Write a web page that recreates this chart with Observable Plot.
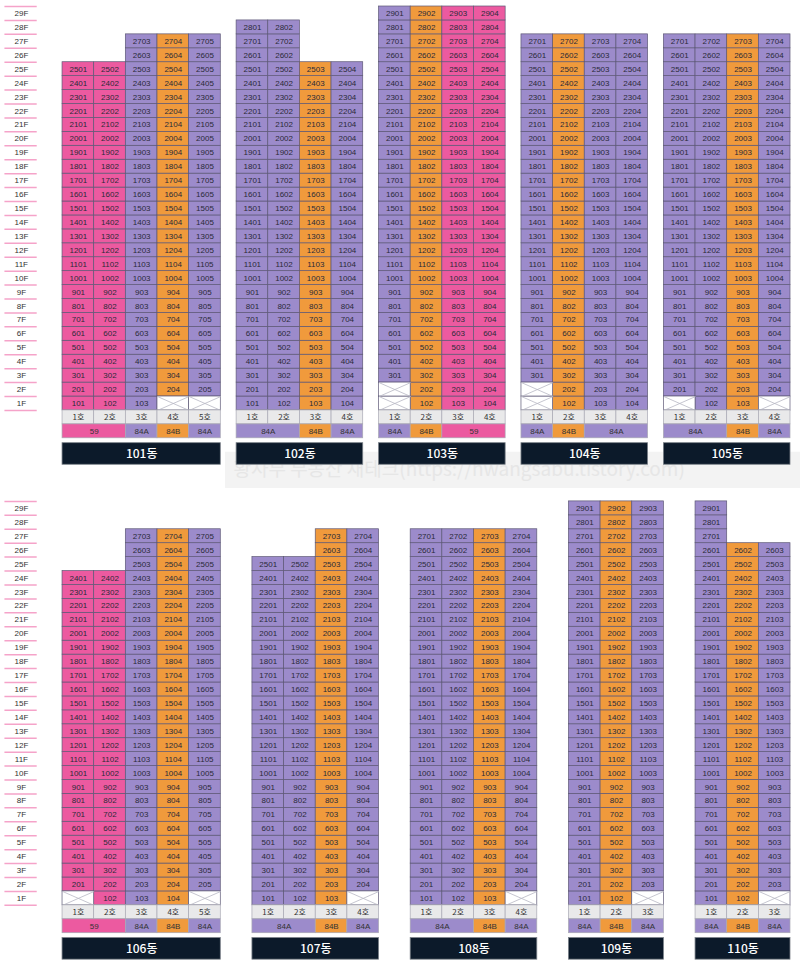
<!DOCTYPE html>
<html><head><meta charset="utf-8">
<script src="https://cdn.jsdelivr.net/npm/d3@7"></script>
<script src="https://cdn.jsdelivr.net/npm/@observablehq/plot@0.6"></script>
<style>
body{margin:0;background:#fff;font-family:"Noto Sans CJK KR","Noto Sans",sans-serif}
#chart svg{display:block}
</style>
</head><body><div id="chart"></div>
<script>
// ---- data ----
const buildingNames = ["101동","102동","103동","104동","105동","106동","107동","108동","109동","110동"];
const buildingRow = [0,0,0,0,0,1,1,1,1,1];
const unitTypes = [
  ["59","59","84A","84B","84A"],
  ["84A","84A","84B","84A"],
  ["84A","84B","59","59"],
  ["84A","84B","84A","84A"],
  ["84A","84A","84B","84A"],
  ["59","59","84A","84B","84A"],
  ["84A","84A","84B","84A"],
  ["84A","84A","84B","84A"],
  ["84A","84B","84A"],
  ["84A","84B","84A"]
];
const topFloors = [
  [25,25,27,27,27],
  [28,28,25,25],
  [29,29,29,29],
  [27,27,27,27],
  [27,27,27,27],
  [24,24,27,27,27],
  [25,25,27,27],
  [27,27,27,27],
  [29,29,29],
  [29,26,26]
];
const emptyUnits = [
  ["104","105"],
  [],
  ["101","201"],
  ["101","201"],
  ["101","104"],
  ["101","105"],
  ["104"],
  ["104"],
  ["103"],
  ["103"]
];
const floorLabels = ["29F","28F","27F","26F","25F","24F","23F","22F","21F","20F","19F","18F","17F","16F","15F","14F","13F","12F","11F","10F","9F","8F","7F","6F","5F","4F","3F","2F","1F"];
const lineLabels = ["1호","2호","3호","4호","5호"];
const typeColors = {"59": "#EC5AA0", "84A": "#9C8BCB", "84B": "#F09A3C"};
const watermark = "황사부 부동산 재테크(https://hwangsabu.tistory.com)";

// ---- layout (in column / row units) ----
const rowGap = [0.5, 1];
const rowOffset = [0, 35.53];
const NF = floorLabels.length;

const starts = [];
{
  const cursor = [0, 0];
  buildingNames.forEach((n, i) => {
    const r = buildingRow[i];
    starts.push(cursor[r]);
    cursor[r] += unitTypes[i].length + rowGap[r];
  });
}

const cells = [], empties = [], hoCells = [], typeSpans = [], labels = [], floorTexts = [], floorRules = [];
buildingNames.forEach((name, b) => {
  const x0 = starts[b], yo = rowOffset[buildingRow[b]];
  const types = unitTypes[b];
  types.forEach((t, c) => {
    for (let f = 1; f <= topFloors[b][c]; f++) {
      const unit = String(f * 100 + c + 1);
      const d = {x1: x0 + c, x2: x0 + c + 1, y1: yo + (NF - f), y2: yo + (NF - f) + 1, unit, type: t};
      if (emptyUnits[b].includes(unit)) empties.push(d); else cells.push(d);
    }
    hoCells.push({x1: x0 + c, x2: x0 + c + 1, y1: yo + NF, y2: yo + NF + 1, label: lineLabels[c]});
  });
  // merge adjacent equal types
  let s = 0;
  for (let c = 1; c <= types.length; c++) {
    if (c === types.length || types[c] !== types[s]) {
      typeSpans.push({x1: x0 + s, x2: x0 + c, y1: yo + NF + 1, y2: yo + NF + 2, type: types[s]});
      s = c;
    }
  }
  labels.push({x1: x0, x2: x0 + types.length, y1: yo + NF + 2.35, y2: yo + NF + 3.9, name});
});
rowOffset.forEach(yo => {
  floorLabels.forEach((l, i) => floorTexts.push({x: -1.3, y: yo + i + 0.5, label: l}));
  for (let k = 0; k <= NF; k++) floorRules.push({x1: -1.82, x2: -0.8, y: yo + k});
});
const cx = d => (d.x1 + d.x2) / 2, cy = d => (d.y1 + d.y2) / 2;
const numFont = "Liberation Sans, DejaVu Sans, sans-serif";
const krFont = "Noto Sans CJK KR, sans-serif";

const chart = Plot.plot({
  width: 800, height: 966,
  marginLeft: 0, marginRight: 10, marginTop: 6, marginBottom: 0,
  x: {domain: [-1.96, 23], axis: null},
  y: {domain: [0, 68.92], reverse: true, axis: null},
  marks: [
    Plot.rect([{x1: 5.15, x2: 23.4, y1: 32.0, y2: 34.6}], {x1: "x1", x2: "x2", y1: "y1", y2: "y2", fill: "#f3f3f3"}),
    Plot.text([{x: 5.4, y: 33.3}], {x: "x", y: "y", text: () => watermark, textAnchor: "start", fontSize: 19, fill: "#e6e6e6", fontFamily: krFont}),
    Plot.rect(cells, {x1: "x1", x2: "x2", y1: "y1", y2: "y2", fill: d => typeColors[d.type], stroke: "#5d5876", strokeWidth: 0.7}),
    Plot.text(cells, {x: cx, y: cy, text: "unit", fontSize: 8, fill: "#2a2a38", fontFamily: numFont}),
    Plot.rect(empties, {x1: "x1", x2: "x2", y1: "y1", y2: "y2", fill: "#fff", stroke: "#5d5876", strokeWidth: 0.7}),
    Plot.link(empties, {x1: "x1", x2: "x2", y1: "y1", y2: "y2", stroke: "#b8b8c4", strokeWidth: 0.8}),
    Plot.link(empties, {x1: "x1", x2: "x2", y1: "y2", y2: "y1", stroke: "#b8b8c4", strokeWidth: 0.8}),
    Plot.rect(hoCells, {x1: "x1", x2: "x2", y1: "y1", y2: "y2", fill: "#e9e9ea", stroke: "#a9a9b4", strokeWidth: 0.7}),
    Plot.text(hoCells, {x: cx, y: cy, text: "label", fontSize: 8, fill: "#333", fontFamily: krFont}),
    Plot.rect(typeSpans, {x1: "x1", x2: "x2", y1: "y1", y2: "y2", fill: d => typeColors[d.type], stroke: "#a9a9b4", strokeWidth: 0.7}),
    Plot.text(typeSpans, {x: cx, y: cy, text: "type", fontSize: 8, fill: "#333", fontFamily: numFont}),
    Plot.rect(labels, {x1: "x1", x2: "x2", y1: "y1", y2: "y2", fill: "#0c1a2a", stroke: "#7a8088", strokeWidth: 0.8}),
    Plot.text(labels, {x: cx, y: cy, text: "name", fontSize: 12, fontWeight: 500, fill: "#fff", fontFamily: krFont}),
    Plot.ruleY(floorRules, {y: "y", x1: "x1", x2: "x2", stroke: "#f5a3c9", strokeWidth: 1.5}),
    Plot.text(floorTexts, {x: "x", y: "y", text: "label", fontSize: 8, fill: "#333", fontFamily: numFont})
  ]
});
document.getElementById("chart").append(chart);
</script>
</body></html>
